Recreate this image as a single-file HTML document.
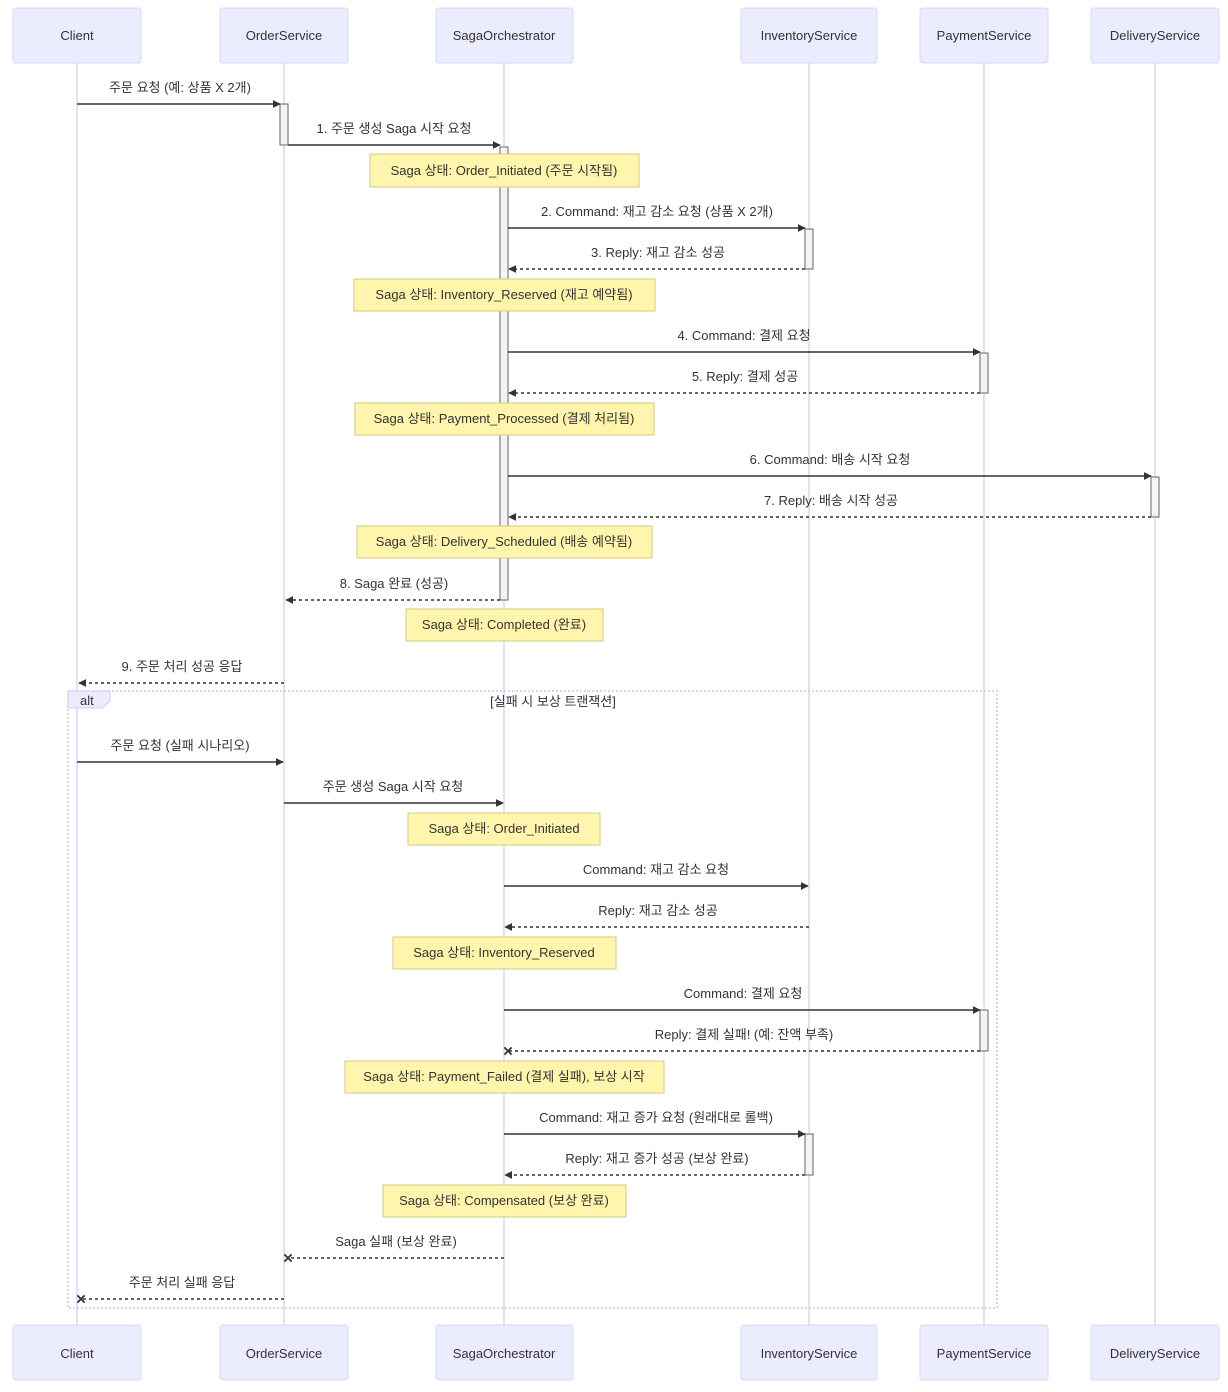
<!DOCTYPE html>
<html><head><meta charset="utf-8"><style>
html,body{margin:0;padding:0;background:#fff;}
svg{display:block;}
text{font-family:"Liberation Sans","Noto Sans CJK KR",sans-serif;font-size:13px;fill:#333;}
.actor{fill:#ECECFF;stroke:#D9D5F7;stroke-width:1;}
.life{stroke:#D9D5F7;stroke-width:1.5;}
.act{fill:#F4F4F4;stroke:#666;stroke-width:1;}
.note{fill:#FFF5AD;stroke:#D2CC7E;stroke-width:1;}
.m{stroke:#333;stroke-width:1.5;fill:none;}
.d{stroke:#333;stroke-width:1.5;fill:none;stroke-dasharray:3,3;}
.c{text-anchor:middle;}
</style></head><body>
<svg width="1228" height="1392" viewBox="0 0 1228 1392" xmlns="http://www.w3.org/2000/svg">
<defs>
<marker id="ah" viewBox="0 0 10 10" refX="9" refY="5" markerWidth="8" markerHeight="8" markerUnits="userSpaceOnUse" orient="auto"><path d="M0,0 L10,5 L0,10 z" fill="#333"/></marker>
<marker id="cx" viewBox="0 0 10 10" refX="5" refY="5" markerWidth="9" markerHeight="9" markerUnits="userSpaceOnUse" orient="auto"><path d="M1,1 L9,9 M9,1 L1,9" stroke="#333" stroke-width="2"/></marker>
</defs>
<!-- lifelines -->
<line class="life" x1="77" y1="63" x2="77" y2="1325"/>
<line class="life" x1="284" y1="63" x2="284" y2="1325"/>
<line class="life" x1="504" y1="63" x2="504" y2="1325"/>
<line class="life" x1="809" y1="63" x2="809" y2="1325"/>
<line class="life" x1="984" y1="63" x2="984" y2="1325"/>
<line class="life" x1="1155" y1="63" x2="1155" y2="1325"/>
<!-- actors top -->
<rect class="actor" x="13" y="8" width="128" height="55" rx="3"/><text class="c" x="77" y="40">Client</text>
<rect class="actor" x="220" y="8" width="128" height="55" rx="3"/><text class="c" x="284" y="40">OrderService</text>
<rect class="actor" x="436" y="8" width="137" height="55" rx="3"/><text class="c" x="504" y="40">SagaOrchestrator</text>
<rect class="actor" x="741" y="8" width="136" height="55" rx="3"/><text class="c" x="809" y="40">InventoryService</text>
<rect class="actor" x="920" y="8" width="128" height="55" rx="3"/><text class="c" x="984" y="40">PaymentService</text>
<rect class="actor" x="1091" y="8" width="128" height="55" rx="3"/><text class="c" x="1155" y="40">DeliveryService</text>
<!-- actors bottom -->
<rect class="actor" x="13" y="1325" width="128" height="55" rx="3"/><text class="c" x="77" y="1358">Client</text>
<rect class="actor" x="220" y="1325" width="128" height="55" rx="3"/><text class="c" x="284" y="1358">OrderService</text>
<rect class="actor" x="436" y="1325" width="137" height="55" rx="3"/><text class="c" x="504" y="1358">SagaOrchestrator</text>
<rect class="actor" x="741" y="1325" width="136" height="55" rx="3"/><text class="c" x="809" y="1358">InventoryService</text>
<rect class="actor" x="920" y="1325" width="128" height="55" rx="3"/><text class="c" x="984" y="1358">PaymentService</text>
<rect class="actor" x="1091" y="1325" width="128" height="55" rx="3"/><text class="c" x="1155" y="1358">DeliveryService</text>
<!-- activations -->
<rect class="act" x="280" y="104" width="8" height="41"/>
<rect class="act" x="500" y="147" width="8" height="453"/>
<rect class="act" x="805" y="229" width="8" height="40"/>
<rect class="act" x="980" y="353" width="8" height="40"/>
<rect class="act" x="1151" y="477" width="8" height="40"/>
<rect class="act" x="980" y="1010" width="8" height="41"/>
<rect class="act" x="805" y="1134" width="8" height="41"/>
<!-- alt -->
<rect x="68" y="691" width="929" height="617" fill="none" stroke="#CCCCEE" stroke-width="1.5" stroke-dasharray="2,2"/>
<path d="M68,691 L110,691 L110,701 L102,708 L68,708 z" fill="#ECECFF" stroke="#CCCCEE"/>
<text x="80" y="705">alt</text>
<text class="c" x="553" y="706">[실패 시 보상 트랜잭션]</text>
<!-- messages -->
<text class="c" x="180" y="92">주문 요청 (예: 상품 X 2개)</text>
<line class="m" x1="77" y1="104" x2="280" y2="104" marker-end="url(#ah)"/>
<text class="c" x="394" y="133">1. 주문 생성 Saga 시작 요청</text>
<line class="m" x1="288" y1="145" x2="500" y2="145" marker-end="url(#ah)"/>
<rect class="note" x="370" y="154" width="269" height="33"/><text class="c" x="504" y="175">Saga 상태: Order_Initiated (주문 시작됨)</text>
<text class="c" x="657" y="216">2. Command: 재고 감소 요청 (상품 X 2개)</text>
<line class="m" x1="508" y1="228" x2="805" y2="228" marker-end="url(#ah)"/>
<text class="c" x="658" y="257">3. Reply: 재고 감소 성공</text>
<line class="d" x1="805" y1="269" x2="509" y2="269" marker-end="url(#ah)"/>
<rect class="note" x="354" y="279" width="301" height="32"/><text class="c" x="504" y="299">Saga 상태: Inventory_Reserved (재고 예약됨)</text>
<text class="c" x="744" y="340">4. Command: 결제 요청</text>
<line class="m" x1="508" y1="352" x2="980" y2="352" marker-end="url(#ah)"/>
<text class="c" x="745" y="381">5. Reply: 결제 성공</text>
<line class="d" x1="980" y1="393" x2="509" y2="393" marker-end="url(#ah)"/>
<rect class="note" x="355" y="403" width="299" height="32"/><text class="c" x="504" y="423">Saga 상태: Payment_Processed (결제 처리됨)</text>
<text class="c" x="830" y="464">6. Command: 배송 시작 요청</text>
<line class="m" x1="508" y1="476" x2="1151" y2="476" marker-end="url(#ah)"/>
<text class="c" x="831" y="505">7. Reply: 배송 시작 성공</text>
<line class="d" x1="1151" y1="517" x2="509" y2="517" marker-end="url(#ah)"/>
<rect class="note" x="357" y="526" width="295" height="32"/><text class="c" x="504" y="546">Saga 상태: Delivery_Scheduled (배송 예약됨)</text>
<text class="c" x="394" y="588">8. Saga 완료 (성공)</text>
<line class="d" x1="500" y1="600" x2="286" y2="600" marker-end="url(#ah)"/>
<rect class="note" x="406" y="609" width="197" height="32"/><text class="c" x="504" y="629">Saga 상태: Completed (완료)</text>
<text class="c" x="182" y="671">9. 주문 처리 성공 응답</text>
<line class="d" x1="284" y1="683" x2="79" y2="683" marker-end="url(#ah)"/>
<!-- alt messages -->
<text class="c" x="180" y="750">주문 요청 (실패 시나리오)</text>
<line class="m" x1="77" y1="762" x2="283" y2="762" marker-end="url(#ah)"/>
<text class="c" x="393" y="791">주문 생성 Saga 시작 요청</text>
<line class="m" x1="284" y1="803" x2="503" y2="803" marker-end="url(#ah)"/>
<rect class="note" x="408" y="813" width="192" height="32"/><text class="c" x="504" y="833">Saga 상태: Order_Initiated</text>
<text class="c" x="656" y="874">Command: 재고 감소 요청</text>
<line class="m" x1="504" y1="886" x2="808" y2="886" marker-end="url(#ah)"/>
<text class="c" x="658" y="915">Reply: 재고 감소 성공</text>
<line class="d" x1="809" y1="927" x2="505" y2="927" marker-end="url(#ah)"/>
<rect class="note" x="393" y="937" width="223" height="32"/><text class="c" x="504" y="957">Saga 상태: Inventory_Reserved</text>
<text class="c" x="743" y="998">Command: 결제 요청</text>
<line class="m" x1="504" y1="1010" x2="980" y2="1010" marker-end="url(#ah)"/>
<text class="c" x="744" y="1039">Reply: 결제 실패! (예: 잔액 부족)</text>
<line class="d" x1="980" y1="1051" x2="508" y2="1051" marker-end="url(#cx)"/>
<rect class="note" x="345" y="1061" width="319" height="32"/><text class="c" x="504" y="1081">Saga 상태: Payment_Failed (결제 실패), 보상 시작</text>
<text class="c" x="656" y="1122">Command: 재고 증가 요청 (원래대로 롤백)</text>
<line class="m" x1="504" y1="1134" x2="805" y2="1134" marker-end="url(#ah)"/>
<text class="c" x="657" y="1163">Reply: 재고 증가 성공 (보상 완료)</text>
<line class="d" x1="805" y1="1175" x2="505" y2="1175" marker-end="url(#ah)"/>
<rect class="note" x="383" y="1185" width="243" height="32"/><text class="c" x="504" y="1205">Saga 상태: Compensated (보상 완료)</text>
<text class="c" x="396" y="1246">Saga 실패 (보상 완료)</text>
<line class="d" x1="504" y1="1258" x2="288" y2="1258" marker-end="url(#cx)"/>
<text class="c" x="182" y="1287">주문 처리 실패 응답</text>
<line class="d" x1="284" y1="1299" x2="81" y2="1299" marker-end="url(#cx)"/>
</svg>
</body></html>
